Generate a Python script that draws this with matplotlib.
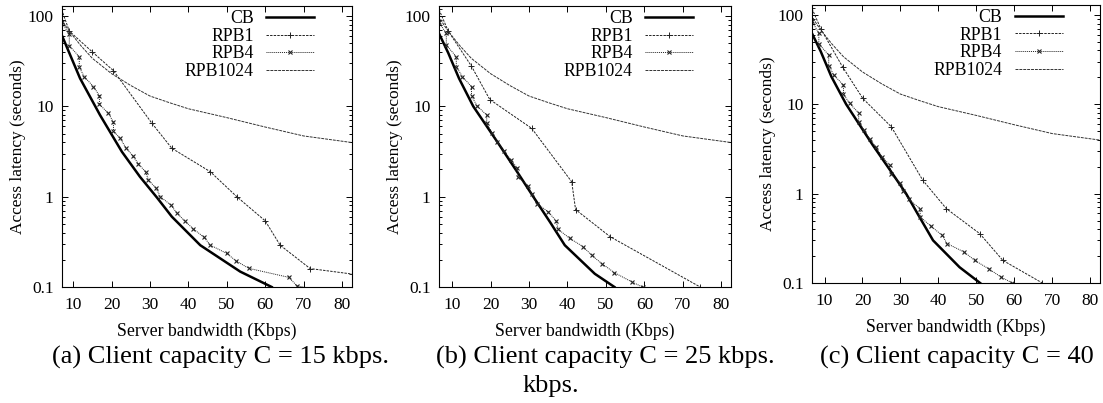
import matplotlib
matplotlib.use("Agg")
import matplotlib.pyplot as plt
from matplotlib.ticker import LogLocator, NullFormatter, FixedFormatter, FixedLocator

plt.rcParams['font.family'] = ['Liberation Serif', 'DejaVu Serif']

# ---- data (server bandwidth in Kbps, latency in s) ----
series_names = ["CB", "RPB1", "RPB4", "RPB1024"]

# panel (a): C = 15 kbps
cb_a_x = [7, 9, 11.8, 17, 22.7, 27.4, 31.8, 35.7, 43.1, 53.5, 61.7]
cb_a_y = [62, 39, 20.4, 8.0, 3.14, 1.66, 0.98, 0.6, 0.29, 0.148, 0.1]
rpb1_a_x = [7, 9, 15, 20.5, 30.5, 35.7, 45.7, 52.6, 60, 63.9, 71.7, 82.7]
rpb1_a_y = [118, 68, 40, 24.8, 6.5, 3.43, 1.89, 1.0, 0.54, 0.29, 0.16, 0.139]
rpb4_a_x = [7, 9.0, 9.0, 11.6, 11.6, 12.9, 15.3, 16.85, 16.85, 19.2, 20.5, 20.5,
            22.2, 23.7, 25.5, 27.0, 28.9, 29.6, 31.6, 32.7, 35.4, 37.0, 39.0,
            41.3, 44.1, 45.7, 50.0, 52.4, 55.7, 66.1, 68.3, 72.6]
rpb4_a_y = [85, 62.7, 46.9, 35.4, 27, 21.3, 16.5, 13.1, 10.5, 8.36, 6.65, 5.33,
            4.43, 3.5, 2.84, 2.31, 1.87, 1.53, 1.24, 1.0, 0.81, 0.66, 0.54,
            0.44, 0.354, 0.291, 0.235, 0.195, 0.161, 0.128, 0.103, 0.095]

# panel (b): C = 25 kbps
cb_b_x = [6.6, 9, 11.8, 15.5, 22, 27.4, 31.1, 35.5, 39.3, 47.1, 52.2]
cb_b_y = [64, 39, 20.4, 10, 3.9, 1.75, 1.0, 0.52, 0.29, 0.14, 0.1]
rpb1_b_x = [6.6, 9, 15, 19.8, 30.7, 41.1, 42.1, 51.1, 74.5]
rpb1_b_y = [118, 68, 28, 11.9, 5.7, 1.46, 0.72, 0.36, 0.1]
rpb4_b_x = [6.6, 8.5, 8.5, 11.1, 11.1, 12.7, 15.05, 15.05, 16.5, 19.0, 19.0,
            20.4, 21.8, 23.5, 25.3, 27.0, 27.2, 29.8, 30.7, 32.0, 35.0, 37.0,
            37.6, 40.6, 44.1, 46.3, 48.9, 52.2, 56.7, 59.5]
rpb4_b_y = [85, 64, 47.7, 35.4, 27.5, 21.3, 16.5, 13.0, 10.1, 8.0, 6.5,
            5.1, 4.06, 3.22, 2.54, 2.06, 1.64, 1.31, 1.06, 0.84, 0.68, 0.54,
            0.435, 0.345, 0.279, 0.224, 0.182, 0.144, 0.114, 0.1]

# panel (c): C = 40 kbps
cb_c_x = [6.7, 9, 11.8, 15.7, 22.7, 27.4, 31.5, 35, 38.6, 45.6, 51]
cb_c_y = [62, 39, 20.4, 10, 3.5, 1.8, 1.0, 0.55, 0.30, 0.15, 0.1]
rpb1_c_x = [6.7, 9, 14.8, 20.1, 27.6, 35.9, 42.1, 50.9, 57.0, 67.4]
rpb1_c_y = [118, 70, 26, 11.6, 5.6, 1.41, 0.68, 0.357, 0.179, 0.1]
rpb4_c_x = [6.7, 8.5, 8.5, 11.1, 11.1, 12.45, 15.0, 15.0, 16.6, 19.0, 19.0,
            20.4, 21.9, 23.6, 25.2, 27.2, 27.6, 29.8, 30.8, 32.2, 35.2, 35.2,
            38.1, 41.0, 42.3, 46.8, 49.6, 53.4, 56.6, 59.5]
rpb4_c_y = [85, 62.4, 47.3, 35.6, 27.0, 21.2, 16.4, 13.0, 10.2, 8.0, 6.4,
            5.1, 4.1, 3.29, 2.58, 2.08, 1.65, 1.32, 1.06, 0.86, 0.68, 0.55,
            0.43, 0.342, 0.276, 0.222, 0.179, 0.143, 0.116, 0.1]

# RPB1024 looks the same in all three panels
rpb1024_x = [7, 8, 10, 12, 15, 20, 25, 30, 35, 40, 50, 60, 70, 83]
rpb1024_y = [92, 78, 60, 47, 34, 23, 17, 13, 11, 9.4, 7.5, 5.9, 4.7, 3.95]

x_ticks = [10, 20, 30, 40, 50, 60, 70, 80]
y_ticks = [0.1, 1, 10, 100]
y_tick_labels = ["0.1", "1", "10", "100"]

captions = ["(a) Client capacity C = 15 kbps.",
            "(b) Client capacity C = 25 kbps.",
            "(c) Client capacity C = 40"]
caption_extra = "kbps."

panels = [
    (cb_a_x, cb_a_y, rpb1_a_x, rpb1_a_y, rpb4_a_x, rpb4_a_y),
    (cb_b_x, cb_b_y, rpb1_b_x, rpb1_b_y, rpb4_b_x, rpb4_b_y),
    (cb_c_x, cb_c_y, rpb1_c_x, rpb1_c_y, rpb4_c_x, rpb4_c_y),
]

W, H = 1103, 403
fig = plt.figure(figsize=(W / 100, H / 100), dpi=100)

# axes boxes in pixels: left, top, right, bottom
boxes = [(62, 6, 352, 287), (439, 6, 731, 287), (812, 5, 1100, 283)]
xlims = [(7.1, 82.6), (6.6, 82.5), (6.7, 82.6)]


def draw_panel(ax, cbx, cby, r1x, r1y, r4x, r4y, xlim):
    ax.plot(cbx, cby, color="black", lw=1.8, label=series_names[0])
    ax.plot(r1x, r1y, color="#222222", lw=0.7, ls=(0, (2.5, 1.2)),
            marker="+", ms=4, mew=0.7, label=series_names[1])
    ax.plot(r4x, r4y, color="#222222", lw=0.7, ls=(0, (1, 1)),
            marker="x", ms=3.2, mew=0.8, label=series_names[2])
    ax.plot(rpb1024_x, rpb1024_y, color="#333333", lw=0.7,
            ls=(0, (3, 1)), label=series_names[3])

    ax.set_yscale("log")
    ax.set_xlim(*xlim)
    ax.set_ylim(0.1, 129)
    ax.xaxis.set_major_locator(FixedLocator(x_ticks))
    ax.yaxis.set_major_locator(FixedLocator(y_ticks))
    ax.yaxis.set_major_formatter(FixedFormatter(y_tick_labels))
    ax.yaxis.set_minor_locator(LogLocator(base=10, subs=range(2, 10)))
    ax.yaxis.set_minor_formatter(NullFormatter())
    ax.tick_params(which="both", direction="in", top=True, right=True,
                   labelsize=12.5, width=0.7)
    ax.tick_params(which="major", length=4)
    ax.tick_params(which="minor", length=2)
    ax.tick_params(axis="x", pad=7)
    ax.tick_params(axis="y", pad=6)
    for s in ax.spines.values():
        s.set_linewidth(0.8)

    ax.set_xlabel("Server bandwidth (Kbps)", fontsize=12.8, labelpad=7)
    ax.set_ylabel("Access latency (seconds)", fontsize=12.5, labelpad=1)

    ax.legend(loc="upper right", bbox_to_anchor=(0.87, 0.985), frameon=False,
              markerfirst=False, fontsize=12.8, handlelength=2.7,
              handletextpad=0.7, labelspacing=0.03, borderpad=0,
              borderaxespad=0, markerscale=1.0)


for (l, t, r, b), data, xlim in zip(boxes, panels, xlims):
    ax = fig.add_axes([l / W, 1 - b / H, (r - l) / W, (b - t) / H])
    draw_panel(ax, *data, xlim)

# captions under the panels
caption_left = [52, 436, 820]
for x0, txt in zip(caption_left, captions):
    fig.text(x0 / W, 1 - 364 / H, txt, fontsize=19, ha="left", va="baseline")
fig.text(551 / W, 1 - 392 / H, caption_extra, fontsize=19, ha="center",
         va="baseline")

fig.savefig("out.png", dpi=100)
